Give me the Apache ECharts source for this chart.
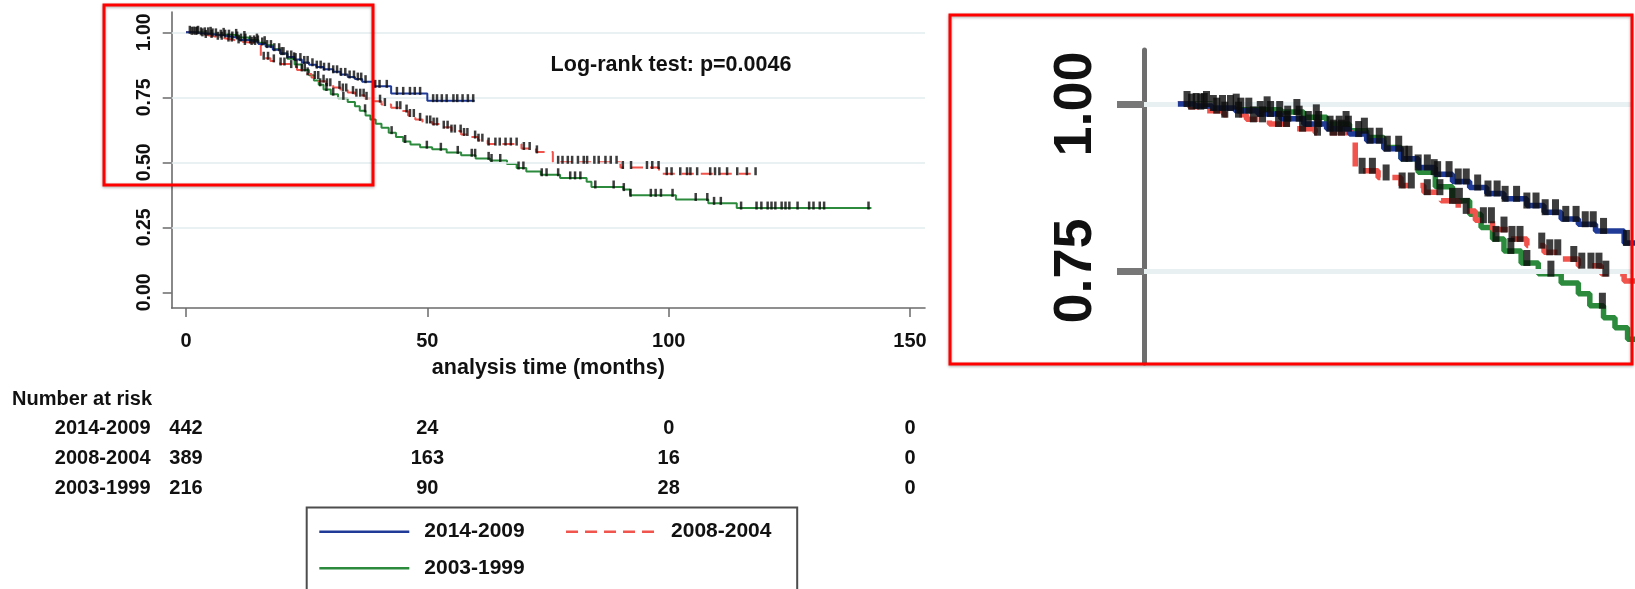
<!DOCTYPE html>
<html>
<head>
<meta charset="utf-8">
<script src="https://cdn.jsdelivr.net/npm/echarts@6/dist/echarts.min.js"></script>
<style>
  html, body { margin: 0; padding: 0; background: #ffffff; }
  #chart { width: 1635px; height: 589px; }
</style>
</head>
<body>
<div id="chart"></div>
<script>
// Study periods
const groups = ['2014-2009', '2008-2004', '2003-1999'];

// Kaplan-Meier estimates: [analysis time (months), survival probability]
const km2014 = [[0,1],[1.5,0.997],[3,0.994],[5,0.99],[7,0.985],[9,0.978],[11,0.97],[13,0.963],[15,0.955],[16.5,0.945],[18,0.933],[19.5,0.918],[21,0.905],[22.5,0.895],[24,0.884],[25.5,0.875],[27,0.866],[28.5,0.858],[30.5,0.848],[32,0.838],[33.5,0.828],[35,0.82],[36.5,0.81],[39,0.792],[42.5,0.765],[50,0.737],[59.8,0.737]];
const km2008 = [[0,1],[1,0.996],[2.5,0.99],[4,0.984],[6,0.977],[8,0.97],[10,0.963],[12,0.957],[15.5,0.9],[17.5,0.89],[19.5,0.878],[21.5,0.868],[23,0.855],[24.5,0.84],[26,0.826],[27.5,0.812],[29,0.798],[30.5,0.788],[32,0.778],[33.5,0.768],[35,0.758],[37,0.746],[39,0.735],[40.5,0.722],[42.5,0.71],[44.5,0.697],[46,0.68],[47.5,0.665],[49,0.655],[51,0.647],[53,0.635],[55,0.62],[57,0.607],[58.5,0.597],[60.5,0.585],[62.5,0.57],[69.5,0.553],[72.5,0.54],[76,0.5],[90,0.48],[98,0.456],[118,0.456]];
const km2003 = [[0,1],[3,0.996],[6,0.992],[9,0.988],[11,0.98],[13,0.97],[15,0.96],[16.5,0.95],[18,0.935],[19.5,0.918],[21,0.898],[22.5,0.876],[24,0.855],[25.5,0.835],[26.5,0.815],[27.5,0.798],[28.5,0.78],[30,0.762],[31.5,0.746],[33.5,0.732],[35,0.716],[36,0.698],[37.2,0.68],[38.2,0.665],[39.3,0.648],[40.5,0.633],[42,0.614],[43.5,0.597],[45,0.58],[46.5,0.568],[48.5,0.558],[51,0.55],[54,0.538],[57,0.527],[60,0.515],[63,0.507],[66.5,0.493],[68.5,0.478],[70.5,0.465],[73.5,0.452],[77.5,0.44],[83,0.425],[84,0.405],[90.6,0.395],[92,0.373],[101.5,0.357],[108.2,0.342],[114.1,0.324],[142,0.324]];

// Censoring times (months)
const cens2014 = [0.8,1.6,2.3,3.1,3.9,4.6,5.5,6.2,7.2,8.1,8.9,9.6,10.6,11.4,12.3,13.3,14.1,14.9,15.8,16.8,17.6,18.3,19.3,20.2,21.0,21.8,22.7,23.7,24.5,25.2,26.2,27.1,27.9,28.6,29.6,30.5,31.3,32.1,33.0,33.9,34.8,35.6,36.3,37.2,39.2,40.1,41.6,43.7,45.0,46.4,47.4,48.5,51.2,52.0,53.0,54.0,55.4,56.2,57.3,58.4,59.5];
const cens2008 = [1.2,2.0,3.4,4.1,5.3,6.6,7.4,8.8,9.5,10.9,12.2,13.6,14.3,16.1,17.0,18.2,19.6,20.4,21.8,22.9,24.0,25.2,26.7,27.4,28.5,29.2,29.9,31.8,32.5,33.2,34.6,35.3,36.1,36.8,37.4,40.2,41.2,43.7,44.4,45.7,46.4,47.2,48.5,49.9,50.6,51.3,52.0,53.4,54.2,55.0,55.7,56.9,57.6,58.3,59.9,60.6,61.4,62.7,64.1,65.0,66.2,67.3,68.5,70.0,71.2,72.7,77.1,78.0,79.1,80.0,81.2,82.4,83.1,84.6,85.5,86.9,88.0,89.2,90.5,92.2,95.5,96.6,97.9,99.6,100.6,102.4,103.8,104.5,105.9,108.6,109.6,110.5,112.1,114.2,116.2,118.0];
const cens2003 = [2.5,5.1,7.8,10.4,12.1,14.7,16.3,19.8,22.4,24.6,27.8,29.1,30.5,32.6,37.1,42.6,45.4,49.9,52.8,56.3,59.2,59.9,62.7,63.3,65.1,68.9,69.9,73.7,74.7,77.1,79.6,80.6,81.7,84.8,88.6,90.7,92.1,96.3,97.3,98.4,100.8,105.6,108.0,109.4,110.8,115.0,118.2,119.2,120.5,121.3,122.1,123.4,124.2,125.0,126.7,129.1,130.0,131.3,132.2,141.4];

// Axis ticks
const xTickValues = [0, 50, 100, 150];
const yTickValues = [0, 0.25, 0.5, 0.75, 1];
const gridValues = [0.25, 0.5, 0.75, 1];
const insetTickValues = [0.75, 1];

// Number at risk table
const riskTimes = [0, 50, 100, 150];
const risk2014 = [442, 24, 0, 0];
const risk2008 = [389, 163, 16, 0];
const risk2003 = [216, 90, 28, 0];

const logRankText = 'Log-rank test: p=0.0046';
const xAxisName = 'analysis time (months)';
const riskTitle = 'Number at risk';

// ---- styling ----
const FONT = "'Liberation Sans', Arial, Helvetica, sans-serif";
const COLORS = ['#1f3b97', '#f0544c', '#2b8a3c'];
const AXIS_GRAY = '#6b6b6b';
const curves = [km2014, km2008, km2003];
const censors = [cens2014, cens2008, cens2003];
const risks = [risk2014, risk2008, risk2003];

// value of a right-continuous step curve at time t
function survivalAt(curve, t) {
  let s = curve[0][1];
  for (const p of curve) { if (p[0] <= t) s = p[1]; else break; }
  return s;
}

function buildSeries(axisIdx, lineWidth, dash, tickSize, tickOffset, gridWidth, gridColor, gridVals) {
  const list = [{
    type: 'line', xAxisIndex: axisIdx, yAxisIndex: axisIdx, data: [], z: 1, silent: true,
    markLine: {
      silent: true, symbol: 'none', animation: false,
      label: { show: false },
      lineStyle: { color: gridColor, width: gridWidth, type: 'solid' },
      data: gridVals.map(v => ({ yAxis: v }))
    }
  }];
  curves.forEach((c, i) => {
    list.push({
      name: groups[i], type: 'line', step: 'end', xAxisIndex: axisIdx, yAxisIndex: axisIdx,
      data: c, symbol: 'none', showSymbol: false, z: 3 + (2 - i),
      lineStyle: { color: COLORS[i], width: lineWidth, type: i === 1 ? dash : 'solid' },
      itemStyle: { color: COLORS[i] }
    });
  });
  censors.forEach((times, i) => {
    list.push({
      name: 'censored ' + groups[i], type: 'scatter', xAxisIndex: axisIdx, yAxisIndex: axisIdx,
      data: times.map(t => [t, survivalAt(curves[i], t)]),
      symbol: 'rect', symbolSize: tickSize, symbolOffset: tickOffset, z: 6,
      itemStyle: { color: '#0d0d0d' }
    });
  });
  return list;
}

const chart = echarts.init(document.getElementById('chart'), null, { renderer: 'canvas' });

const labelBase = { color: '#111111', fontFamily: FONT, fontWeight: 'bold' };
const legendText = { fontSize: 21, fontWeight: 'bold', color: '#111111', fontFamily: FONT, lineHeight: 22, padding: [0, 0, 0, 10] };

const option = {
  animation: false,
  backgroundColor: '#ffffff',
  grid: [
    { left: 171.7, top: 12, width: 753.3, height: 296 },
    { left: 1144, top: 50, width: 487, height: 313 }
  ],
  xAxis: [
    {
      gridIndex: 0, type: 'value', min: -2.96, max: 153.1,
      axisLine: { show: true, onZero: false, lineStyle: { color: AXIS_GRAY, width: 1.6 } },
      axisTick: { show: true, customValues: xTickValues, length: 9, lineStyle: { color: AXIS_GRAY, width: 1.5 } },
      axisLabel: Object.assign({ customValues: xTickValues, fontSize: 20, margin: 23 }, labelBase),
      splitLine: { show: false },
      name: xAxisName, nameLocation: 'middle', nameGap: 49,
      nameTextStyle: { color: '#111111', fontFamily: FONT, fontWeight: 'bold', fontSize: 21.5 }
    },
    { gridIndex: 1, type: 'value', min: -2.96, max: 39.6, show: false }
  ],
  yAxis: [
    {
      gridIndex: 0, type: 'value', min: -0.0604, max: 1.078,
      axisLine: { show: true, onZero: false, lineStyle: { color: AXIS_GRAY, width: 1.6 } },
      axisTick: { show: true, customValues: yTickValues, length: 9, lineStyle: { color: AXIS_GRAY, width: 1.5 } },
      axisLabel: Object.assign({ customValues: yTickValues, rotate: 90, fontSize: 19.5, margin: 17.5,
        formatter: v => Number(v).toFixed(2) }, labelBase),
      splitLine: { show: false }
    },
    {
      gridIndex: 1, type: 'value', min: 0.6123, max: 1.0808,
      axisLine: { show: true, onZero: false, lineStyle: { color: '#6e6e6e', width: 5 } },
      axisTick: { show: true, customValues: insetTickValues, length: 27, lineStyle: { color: '#777777', width: 7 } },
      axisLabel: Object.assign({ customValues: insetTickValues, rotate: 90, fontSize: 54, margin: 41,
        formatter: v => Number(v).toFixed(2) }, labelBase),
      splitLine: { show: false }
    }
  ],
  legend: [
    {
      data: [groups[0], groups[1]], left: 318, top: 520.7, padding: 0,
      itemWidth: 90, itemHeight: 2, itemGap: 40, selectedMode: false,
      itemStyle: { opacity: 0 }, lineStyle: { width: 2.6 }, textStyle: legendText
    },
    {
      data: [groups[2]], left: 318, top: 557.3, padding: 0,
      itemWidth: 90, itemHeight: 2, selectedMode: false,
      itemStyle: { opacity: 0 }, lineStyle: { width: 2.6 }, textStyle: legendText
    }
  ],
  series: [].concat(
    buildSeries(0, 2, [12, 7], [2.5, 8], [0, -2.5], 1.5, '#e3ecef', gridValues),
    buildSeries(1, 5.5, [24, 12], [7, 16], [0, -5], 5, '#e8f0f2', insetTickValues)
  )
};
chart.setOption(option);

// annotations, highlight frames, legend frame and the number-at-risk table
const graphics = [
  { id: 'logrank', type: 'text', z: 50,
    style: { text: logRankText, x: 671, y: 64.6, align: 'center', verticalAlign: 'middle',
      fill: '#111111', font: 'bold 21.5px ' + FONT } },
  { id: 'legendFrame', type: 'rect', z: 40,
    shape: { x: 306.7, y: 507.5, width: 490.5, height: 110 },
    style: { fill: 'none', stroke: '#4d4d4d', lineWidth: 2 } },
  { id: 'frameMain', type: 'rect', z: 100,
    shape: { x: 104, y: 5, width: 269, height: 180 },
    style: { fill: 'none', stroke: '#ff0000', lineWidth: 3,
      shadowBlur: 3, shadowColor: 'rgba(0,0,0,0.35)', shadowOffsetY: 1 } },
  { id: 'frameInset', type: 'rect', z: 100,
    shape: { x: 950, y: 15, width: 682, height: 349 },
    style: { fill: 'none', stroke: '#ff0000', lineWidth: 3,
      shadowBlur: 3, shadowColor: 'rgba(0,0,0,0.35)', shadowOffsetY: 1 } },
  { id: 'riskTitle', type: 'text', z: 50,
    style: { text: riskTitle, x: 12, y: 399.5, align: 'left', verticalAlign: 'middle',
      fill: '#111111', font: 'bold 20px ' + FONT } }
];
const rowY = [428, 458, 488];
groups.forEach((g, r) => {
  graphics.push({ id: 'rowLabel' + r, type: 'text', z: 50,
    style: { text: g, x: 150.5, y: rowY[r], align: 'right', verticalAlign: 'middle',
      fill: '#111111', font: 'bold 20px ' + FONT } });
  riskTimes.forEach((t, c) => {
    const px = chart.convertToPixel({ xAxisIndex: 0 }, t);
    graphics.push({ id: 'risk' + r + '_' + c, type: 'text', z: 50,
      style: { text: String(risks[r][c]), x: px, y: rowY[r], align: 'center', verticalAlign: 'middle',
        fill: '#111111', font: 'bold 20px ' + FONT } });
  });
});
chart.setOption({ graphic: graphics });
</script>
</body>
</html>
